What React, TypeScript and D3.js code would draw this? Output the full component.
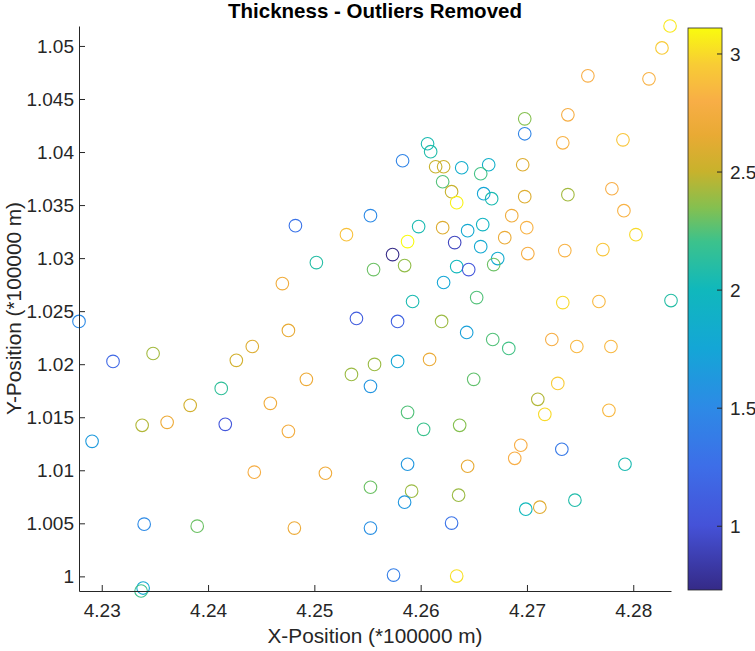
import { useEffect, useRef } from 'react'
import * as d3 from 'd3'

// Positions in units of 100000 m, thickness per point
const xPos = [
  4.28346, 4.2827, 4.27573, 4.28148, 4.27385, 4.26979, 4.26979, 4.27337, 4.27903, 4.26065,
  4.26094, 4.2583, 4.26141, 4.26216, 4.26386, 4.2664, 4.26565, 4.2696, 4.26207, 4.26291,
  4.26339, 4.26593, 4.26668, 4.26979, 4.27385, 4.27799, 4.27912, 4.28025, 4.26857, 4.26998,
  4.26791, 4.27008, 4.27356, 4.27714, 4.25981, 4.26207, 4.26442, 4.26584, 4.25877, 4.2632,
  4.26565, 4.25736, 4.25849, 4.26339, 4.26452, 4.26725, 4.26687, 4.25557, 4.26216, 4.25924,
  4.26527, 4.27337, 4.27677, 4.28355, 4.25783, 4.26197, 4.26433, 4.26678, 4.26829, 4.27234,
  4.27469, 4.2779, 4.25566, 4.25783, 4.26084, 4.26499, 4.2729, 4.27102, 4.27168, 4.27771,
  4.25877, 4.26028, 4.26367, 4.26942, 4.26885, 4.27328, 4.27922, 4.25877, 4.26442, 4.25915,
  4.25849, 4.26357, 4.26989, 4.27121, 4.27451, 4.26291, 4.25745, 4.26339, 4.24822, 4.25302,
  4.25528, 4.25019, 4.24699, 4.25396, 4.22786, 4.24756, 4.23106, 4.23483, 4.24266, 4.24416,
  4.25349, 4.25528, 4.24925, 4.24124, 4.23832, 4.23615, 4.2338, 4.24162, 4.24586, 4.24756,
  4.22909, 4.24435, 4.25104, 4.25528, 4.23399, 4.23898, 4.24812, 4.25528, 4.23389, 4.2337,
]

const yPos = [
  1.05188, 1.04981, 1.04718, 1.0469, 1.04351, 1.04313, 1.04172, 1.04087, 1.04115, 1.04078,
  1.04003, 1.03918, 1.03861, 1.03861, 1.03852, 1.0388, 1.03795, 1.0388, 1.0372, 1.03626,
  1.03523, 1.03607, 1.0356, 1.03579, 1.03598, 1.03654, 1.03447, 1.03221, 1.034, 1.03287,
  1.03193, 1.03043, 1.03071, 1.0308, 1.03297, 1.03287, 1.03259, 1.03316, 1.03156, 1.03146,
  1.03108, 1.03033, 1.0293, 1.0292, 1.02892, 1.02996, 1.02939, 1.02892, 1.0277, 1.02591,
  1.02628, 1.02581, 1.02591, 1.026, 1.02403, 1.02403, 1.02299, 1.02233, 1.02149, 1.02233,
  1.02167, 1.02167, 1.01998, 1.02026, 1.02045, 1.01857, 1.01819, 1.01669, 1.01527, 1.01565,
  1.01546, 1.01386, 1.01424, 1.01236, 1.01113, 1.01198, 1.01057, 1.01057, 1.01038, 1.00803,
  1.00699, 1.00765, 1.00633, 1.00652, 1.00718, 1.00502, 1.00012, 1.00003, 1.03306, 1.03221,
  1.034, 1.02958, 1.0276, 1.02431, 1.02403, 1.02318, 1.02026, 1.02101, 1.02036, 1.02167,
  1.01904, 1.01791, 1.01857, 1.01772, 1.01612, 1.01452, 1.01424, 1.01433, 1.01631, 1.01367,
  1.01273, 1.00982, 1.00972, 1.0084, 1.00492, 1.00473, 1.00455, 1.00455, 0.9989, 0.99862,
]

const thickness = [
  3.05, 2.95, 2.8, 2.82, 2.78, 2.35, 1.45, 2.82, 2.92, 2.05,
  2.08, 1.45, 2.5, 2.52, 1.85, 1.88, 2.22, 2.6, 2.25, 2.5,
  3.08, 1.75, 2.05, 2.6, 2.42, 2.8, 2.82, 3.0, 2.72, 2.82,
  2.68, 2.78, 2.82, 2.92, 2.05, 2.6, 1.8, 1.95, 3.11, 0.92,
  1.8, 0.73, 2.38, 2.0, 1.05, 1.82, 2.3, 2.3, 1.75, 2.05,
  2.25, 3.0, 2.85, 2.1, 1.15, 2.4, 1.7, 2.25, 2.22, 2.78,
  2.85, 2.85, 2.4, 1.75, 2.68, 2.28, 2.95, 2.45, 3.0, 2.85,
  2.25, 2.2, 2.35, 2.8, 2.8, 1.35, 2.05, 1.62, 2.65, 2.4,
  1.62, 2.4, 2.0, 2.62, 2.08, 1.3, 1.4, 3.02, 1.3, 2.9,
  1.5, 2.1, 2.72, 1.1, 1.5, 2.65, 1.2, 2.42, 2.55, 2.6,
  2.4, 1.6, 2.7, 2.15, 2.55, 2.7, 2.45, 1.05, 2.72, 2.75,
  1.65, 2.78, 2.72, 2.3, 1.5, 2.3, 2.7, 1.55, 1.8, 2.2,
]

const xTicks = [4.23, 4.24, 4.25, 4.26, 4.27, 4.28]
const yTicks = [1, 1.005, 1.01, 1.015, 1.02, 1.025, 1.03, 1.035, 1.04, 1.045, 1.05]
const cTicks = [1, 1.5, 2, 2.5, 3]

// parula-like colormap, stops as fractions of the colour range
const cmapStops = [0, 0.115, 0.22, 0.325, 0.43, 0.535, 0.62, 0.68, 0.745, 0.81, 0.87, 0.935, 1]
const cmapColors = [
  '#352a87', '#4552d8', '#3d6ee8', '#2d8ae6', '#14a6d6', '#10b8bc', '#3cc28c',
  '#84c050', '#c8b22c', '#e9aa34', '#f8ae46', '#f8cc35', '#f9fb0e',
]

const W = 755
const H = 651
const axisColor = '#262626'
const font = 'Liberation Sans, Arial, Helvetica, sans-serif'

export default function App() {
  const svgRef = useRef<SVGSVGElement>(null)

  useEffect(() => {
    document.body.style.margin = '0'
    if (!svgRef.current) return
    const svg = d3.select(svgRef.current)
    svg.selectAll('*').remove()

    const plot = { left: 79, right: 671, top: 26, bottom: 591 }
    const bar = { left: 688, right: 722, top: 28, bottom: 590 }

    const x = d3.scaleLinear().domain(d3.extent(xPos) as [number, number]).range([plot.left, plot.right])
    const y = d3.scaleLinear().domain(d3.extent(yPos) as [number, number]).range([plot.bottom, plot.top])
    const cExt = d3.extent(thickness) as [number, number]
    const cScale = d3.scaleLinear().domain(cExt).range([bar.bottom, bar.top])
    const cmap = d3.scaleLinear<string>().domain(cmapStops).range(cmapColors).interpolate(d3.interpolateRgb).clamp(true)
    const colorOf = (v: number) => cmap((v - cExt[0]) / (cExt[1] - cExt[0]))

    svg.append('rect').attr('width', W).attr('height', H).attr('fill', '#fff')

    // markers
    svg.append('g')
      .selectAll('circle')
      .data(d3.range(xPos.length))
      .enter().append('circle')
      .attr('cx', i => x(xPos[i]))
      .attr('cy', i => y(yPos[i]))
      .attr('r', 6.3)
      .attr('fill', 'none')
      .attr('stroke', i => colorOf(thickness[i]))
      .attr('stroke-width', 1.1)

    const fmt = (d: d3.NumberValue) => String(+(+d).toFixed(3))

    const xAxis = svg.append('g')
      .attr('transform', `translate(0,${plot.bottom})`)
      .call(d3.axisBottom(x).tickValues(xTicks).tickFormat(fmt).tickSizeInner(-6).tickSizeOuter(0).tickPadding(12.5))
    const yAxis = svg.append('g')
      .attr('transform', `translate(${plot.left},0)`)
      .call(d3.axisLeft(y).tickValues(yTicks).tickFormat(fmt).tickSizeInner(-6).tickSizeOuter(0).tickPadding(5))

    ;[xAxis, yAxis].forEach(g => {
      g.select('.domain').attr('stroke', axisColor)
      g.selectAll('.tick line').attr('stroke', axisColor)
      g.selectAll('.tick text')
        .attr('fill', axisColor)
        .style('font-family', font)
        .style('font-size', '19px')
    })

    // colorbar
    const grad = svg.append('defs').append('linearGradient')
      .attr('id', 'cmap-grad')
      .attr('x1', 0).attr('y1', 1).attr('x2', 0).attr('y2', 0)
    cmapStops.forEach((s, i) => {
      grad.append('stop').attr('offset', s).attr('stop-color', cmapColors[i])
    })
    svg.append('rect')
      .attr('x', bar.left).attr('y', bar.top)
      .attr('width', bar.right - bar.left).attr('height', bar.bottom - bar.top)
      .attr('fill', 'url(#cmap-grad)')
      .attr('stroke', axisColor).attr('stroke-width', 0.8)

    const cb = svg.append('g').attr('transform', `translate(${bar.right},0)`)
    cb.selectAll('line')
      .data(cTicks)
      .enter().append('line')
      .attr('x1', 0).attr('x2', -5)
      .attr('y1', d => cScale(d)).attr('y2', d => cScale(d))
      .attr('stroke', axisColor)
    cb.selectAll('text')
      .data(cTicks)
      .enter().append('text')
      .attr('x', 8)
      .attr('y', d => cScale(d))
      .attr('dy', '0.35em')
      .attr('fill', axisColor)
      .style('font-family', font)
      .style('font-size', '19px')
      .text(d => String(d))

    // labels
    svg.append('text')
      .attr('x', (plot.left + plot.right) / 2).attr('y', 18)
      .attr('text-anchor', 'middle')
      .style('font-family', font).style('font-size', '20.5px').style('font-weight', 'bold')
      .attr('fill', '#000')
      .text('Thickness - Outliers Removed')

    svg.append('text')
      .attr('x', (plot.left + plot.right) / 2).attr('y', 643)
      .attr('text-anchor', 'middle')
      .style('font-family', font).style('font-size', '20.8px')
      .attr('fill', axisColor)
      .text('X-Position (*100000 m)')

    svg.append('text')
      .attr('transform', `translate(20.5,${(plot.top + plot.bottom) / 2}) rotate(-90)`)
      .attr('text-anchor', 'middle')
      .style('font-family', font).style('font-size', '20.8px')
      .attr('fill', axisColor)
      .text('Y-Position (*100000 m)')
  }, [])

  return <svg ref={svgRef} width={W} height={H} style={{ display: 'block' }} />
}
